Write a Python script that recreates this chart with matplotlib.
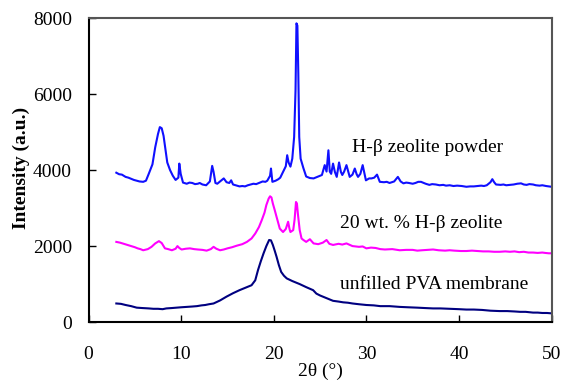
import matplotlib.pyplot as plt
import numpy as np

plt.rcParams['font.family'] = ['Liberation Serif', 'DejaVu Serif']

# H-beta zeolite powder
zeo_x = [3.0, 3.3, 3.6, 4.0, 4.3, 4.6, 4.9, 5.2, 5.5, 5.9, 6.2, 6.5, 6.9, 7.2, 7.5, 7.7, 7.9, 8.1, 8.3,
         8.5, 8.8, 9.1, 9.4, 9.7, 9.8, 9.95, 10.2, 10.6, 10.9, 11.2, 11.5, 11.8, 12.0, 12.3, 12.7, 13.1,
         13.35, 13.5, 13.7, 13.9, 14.2, 14.6, 14.9, 15.2, 15.4, 15.6, 16.0, 16.3, 16.6, 16.9, 17.2, 17.5,
         17.8, 18.1, 18.3, 18.6, 18.8, 19.1, 19.3, 19.6, 19.7, 19.85, 20.2, 20.5, 20.7, 21.0, 21.3,
         21.45, 21.6, 21.8, 22.0, 22.2, 22.35, 22.45, 22.55, 22.65, 22.75, 22.9, 23.2, 23.5, 23.9,
         24.3, 24.8, 25.2, 25.5, 25.7, 25.9, 26.05, 26.2, 26.4, 26.6, 26.8, 27.05, 27.25, 27.4, 27.6,
         27.85, 28.05, 28.2, 28.5, 28.75, 28.95, 29.1, 29.35, 29.6, 29.8, 29.95, 30.3, 30.55, 30.85,
         31.15, 31.45, 31.9, 32.2, 32.5, 33.0, 33.4, 33.7, 34.0, 34.3, 34.6, 35.0, 35.3, 35.6, 35.9,
         36.2, 36.4, 36.8, 37.1, 37.5, 37.9, 38.3, 38.6, 39.0, 39.4, 39.8, 40.3, 40.8, 41.2, 41.6,
         42.0, 42.4, 42.7, 43.0, 43.4, 43.6, 43.8, 44.0, 44.5, 44.8, 45.1, 45.5, 45.9, 46.3, 46.7,
         47.0, 47.3, 47.6, 48.0, 48.3, 48.7, 49.0, 49.4, 49.7, 50.0]
zeo_y = [3930, 3890, 3880, 3820, 3800, 3770, 3740, 3720, 3700, 3690, 3720, 3900, 4150, 4600, 4950, 5130,
         5100, 4900, 4550, 4200, 4000, 3850, 3740, 3800, 4170, 3900, 3670, 3640, 3670, 3660, 3630, 3640,
         3660, 3620, 3600, 3700, 4110, 3950, 3660, 3640, 3700, 3780, 3680, 3660, 3730, 3620, 3590, 3570,
         3580, 3570, 3600, 3620, 3640, 3630, 3650, 3680, 3700, 3690, 3720, 3850, 4040, 3690, 3720, 3760,
         3800, 3950, 4100, 4390, 4200, 4090, 4300, 4870, 6100, 7860, 7800, 6550, 4870, 4300, 4050, 3830,
         3790, 3780, 3830, 3870, 4130, 3960, 4520, 3960, 3900, 4170, 3950, 3820, 4200, 3950, 3870, 3960,
         4130, 3950, 3820, 3880, 4040, 3890, 3820, 3900, 4130, 3900, 3730, 3780, 3780, 3800, 3880, 3690,
         3680, 3690, 3660, 3700, 3820, 3700, 3650, 3670, 3660, 3640, 3660, 3690, 3690, 3660, 3640, 3610,
         3630, 3620, 3600, 3610, 3590, 3600, 3580, 3590, 3580, 3560, 3570, 3570, 3580, 3590, 3580, 3600,
         3680, 3760, 3680, 3620, 3610, 3620, 3600, 3610, 3620, 3640, 3650, 3620, 3610, 3630, 3620, 3600,
         3590, 3600, 3580, 3570, 3560]

# 20 wt. % H-beta zeolite
mix_x = [3.0, 3.4, 3.8, 4.2, 4.6, 5.0, 5.3, 5.6, 5.9, 6.4, 6.8, 7.2, 7.6, 7.9, 8.25, 8.6, 9.0, 9.4, 9.6,
         9.8, 10.05, 10.5, 10.95, 11.4, 11.8, 12.3, 12.75, 13.2, 13.5, 13.8, 14.2, 14.6, 15.0, 15.5, 16.0,
         16.6, 17.1, 17.6, 18.0, 18.4, 18.7, 19.0, 19.2, 19.45, 19.6, 19.75, 19.9, 20.1, 20.3, 20.65,
         21.0, 21.3, 21.55, 21.7, 21.8, 22.1, 22.25, 22.4, 22.5, 22.6, 22.8, 23.0, 23.2, 23.5, 23.9,
         24.3, 24.8, 25.3, 25.7, 26.0, 26.4, 27.0, 27.4, 27.85, 28.5, 29.2, 29.6, 30.0, 30.5, 31.0,
         31.5, 32.0, 32.8, 33.6, 34.3, 35.0, 35.5, 36.0, 36.6, 37.2, 37.8, 38.5, 39.0, 39.5, 40.2,
         40.8, 41.4, 42.0, 42.6, 43.2, 43.8, 44.4, 45.0, 45.5, 46.0, 46.5, 47.0, 47.5, 48.0, 48.5,
         49.0, 49.3, 49.7, 50.0]
mix_y = [2110, 2090, 2060, 2030, 2000, 1970, 1940, 1920, 1890, 1920, 1980, 2070, 2130, 2080, 1940, 1920,
         1890, 1930, 2000, 1950, 1910, 1930, 1940, 1920, 1910, 1900, 1880, 1920, 1980, 1930, 1890, 1910,
         1940, 1970, 2010, 2050, 2110, 2200, 2330, 2500, 2680, 2880, 3080, 3250, 3310, 3280, 3120, 2950,
         2770, 2460, 2370, 2450, 2640, 2450, 2370, 2420, 2700, 3160, 3120, 2860, 2420, 2200, 2160, 2110,
         2180, 2070, 2050, 2090, 2160, 2060, 2030, 2060, 2040, 2070, 2000, 1980, 1990, 1940, 1960, 1950,
         1920, 1910, 1920, 1890, 1900, 1900, 1880, 1890, 1900, 1910, 1890, 1880, 1890, 1880, 1870, 1870,
         1880, 1870, 1860, 1860, 1850, 1850, 1860, 1850, 1860, 1840, 1850, 1830, 1830, 1820, 1830, 1820,
         1810, 1810]

# unfilled PVA membrane
pva_x = [3.0, 3.5, 4.0, 4.6, 5.2, 5.8, 6.5, 7.0, 7.5, 8.0, 8.4, 9.0, 9.5, 10.0, 10.6, 11.2, 11.7, 12.2,
         12.6, 13.0, 13.5, 14.2, 14.9, 15.6, 16.3, 17.0, 17.6, 18.0, 18.3, 18.6, 18.9, 19.2, 19.5, 19.7,
         19.9, 20.1, 20.3, 20.55, 20.8, 21.1, 21.4, 22.0, 22.8, 23.5, 24.25, 24.6, 25.0, 25.6, 26.4,
         27.0, 27.5, 28.0, 28.5, 29.2, 30.0, 30.8, 31.5, 32.5, 33.6, 34.5, 35.5, 36.3, 37.2, 38.0, 39.0,
         40.0, 40.8, 41.6, 42.5, 43.4, 44.4, 45.2, 46.0, 46.6, 47.2, 47.6, 48.0, 48.5, 49.0, 49.5, 50.0]
pva_y = [490, 480, 450, 420, 380, 370, 360, 350, 350, 340, 360, 370, 380, 390, 400, 410, 420, 440,
         450, 470, 490, 570, 670, 760, 840, 910, 970, 1100, 1370, 1600, 1810, 2000, 2160, 2150, 2030,
         1880, 1720, 1500, 1320, 1220, 1150, 1080, 1000, 920, 840, 750, 700, 640, 560, 540, 520, 510,
         490, 470, 450, 440, 420, 420, 400, 390, 380, 370, 360, 360, 350, 340, 330, 330, 320, 300, 290,
         290, 280, 270, 270, 260, 250, 250, 240, 240, 230]

labels = ['H-\u03b2 zeolite powder', '20 wt. % H-\u03b2 zeolite', 'unfilled PVA membrane']
label_pos = [(28.4, 4600), (27.1, 2600), (27.1, 1000)]

fig = plt.figure(figsize=(5.64, 3.83), dpi=100)
ax = fig.add_axes([0.157, 0.159, 0.821, 0.794])

ax.plot(zeo_x, zeo_y, color='#1010ff', lw=1.5)
ax.plot(mix_x, mix_y, color='#ff00ff', lw=1.5)
ax.plot(pva_x, pva_y, color='#000080', lw=1.5)

for txt, (tx, ty) in zip(labels, label_pos):
    ax.text(tx, ty, txt, fontsize=14, ha='left', va='center')

ax.set_xlim(0, 50)
ax.set_ylim(0, 8000)
ax.set_xticks(np.arange(0, 51, 10))
ax.set_yticks(np.arange(0, 8001, 2000))
ax.tick_params(direction='in', length=5, width=1, labelsize=14)
ax.tick_params(axis='x', pad=17)
ax.tick_params(axis='y', pad=12)
ax.set_xlabel('2\u03b8 (\u00b0)', fontsize=14, labelpad=0)
ax.set_ylabel('Intensity (a.u.)', fontsize=14, fontweight='bold')
ax.yaxis.set_label_coords(-0.127, 0.507)

for s in ['left', 'bottom']:
    ax.spines[s].set_color('black')
    ax.spines[s].set_linewidth(1.5)
for s in ['top', 'right']:
    ax.spines[s].set_color('#555555')
    ax.spines[s].set_linewidth(1.5)

fig.savefig('out.png', dpi=100)
